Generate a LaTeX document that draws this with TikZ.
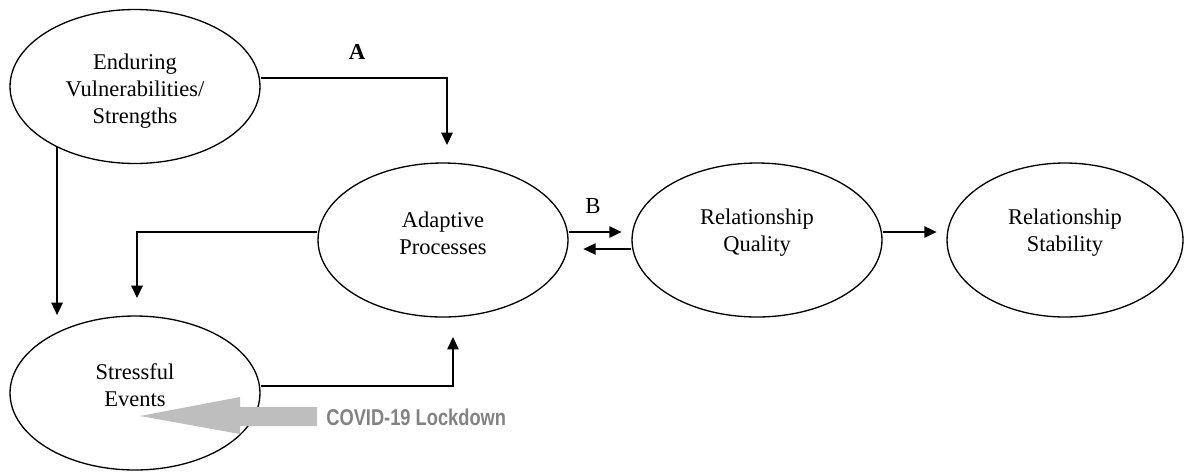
\documentclass[tikz,border=0pt]{standalone}
\usepackage{fontspec}
\setmainfont{Liberation Serif}
\newfontfamily\covidfont[FakeStretch=0.8]{Liberation Sans}
\usetikzlibrary{shapes.geometric,arrows.meta}
\definecolor{covidfill}{RGB}{190,190,190}
\definecolor{covidtext}{RGB}{130,130,130}
\tikzset{
	oval/.style={draw, ellipse, line width=0.75pt, inner sep=0pt, minimum width=5cm, minimum height=3.08cm},
	ovaltext/.style={inner sep=0pt, align=center, font=\fontsize{12.8}{15.4}\selectfont},
	conn/.style={line width=0.75pt, -{Triangle[length=7pt,width=6.5pt]}},
	lbl/.style={inner sep=0pt, font=\fontsize{13}{15}\selectfont}
}
\begin{document}
	\begin{tikzpicture}[x=0.02cm, y=-0.02cm]
		\useasboundingbox (0,0) rectangle (1193,471);
		\node[oval] (ev) at (135,86.5) {};
		\node[ovaltext] (evtext) at (135,91.5) {Enduring\\Vulnerabilities/\\Strengths};
		\node[oval] (se) at (135,393) {};
		\node[ovaltext] (setext) at (135,385) {Stressful\\Events};
		\node[oval] (ap) at (443,240) {};
		\node[ovaltext] (aptext) at (443,233.5) {Adaptive\\Processes};
		\node[oval] (rq) at (757,240) {};
		\node[ovaltext] (rqtext) at (757,232.5) {Relationship\\Quality};
		\node[oval, minimum width=4.72cm] (rs) at (1065,240) {};
		\node[ovaltext] (rstext) at (1065,232.5) {Relationship\\Stability};
		\coordinate (atip) at (447,145);
		\coordinate (evtip) at (58,315);
		\coordinate (aptip) at (137,298);
		\coordinate (setip) at (453,337);
		\draw[conn] ([yshift=0.17cm]ev.east) -| (atip);
		\node[lbl, font=\fontsize{13}{15}\selectfont\bfseries] (labA) at (357,52) {A};
		\draw[conn] (ev.218) -- (ev.218 |- evtip);
		\draw[conn] ([yshift=0.16cm]ap.west) -| (aptip);
		\draw[conn] ([yshift=0.14cm]se.east) -| (setip);
		\draw[conn] ([yshift=0.16cm]ap.east) -- ++(53,0);
		\draw[conn] ([yshift=-0.18cm]rq.west) -- ++(-48,0);
		\node[lbl] (labB) at (593,206) {B};
		\draw[conn] ([yshift=0.16cm]rq.east) -- ++(54,0);
		\fill[covidfill] (317,407) -- (240,407) -- (240,397) -- (140,416) -- (240,434) -- (240,426) -- (317,426) -- cycle;
		\node[anchor=west, inner sep=0pt, text=covidtext, font=\covidfont\bfseries\fontsize{13}{15}\selectfont] (covid) at (326,417) {COVID-19 Lockdown};
	\end{tikzpicture}
\end{document}
